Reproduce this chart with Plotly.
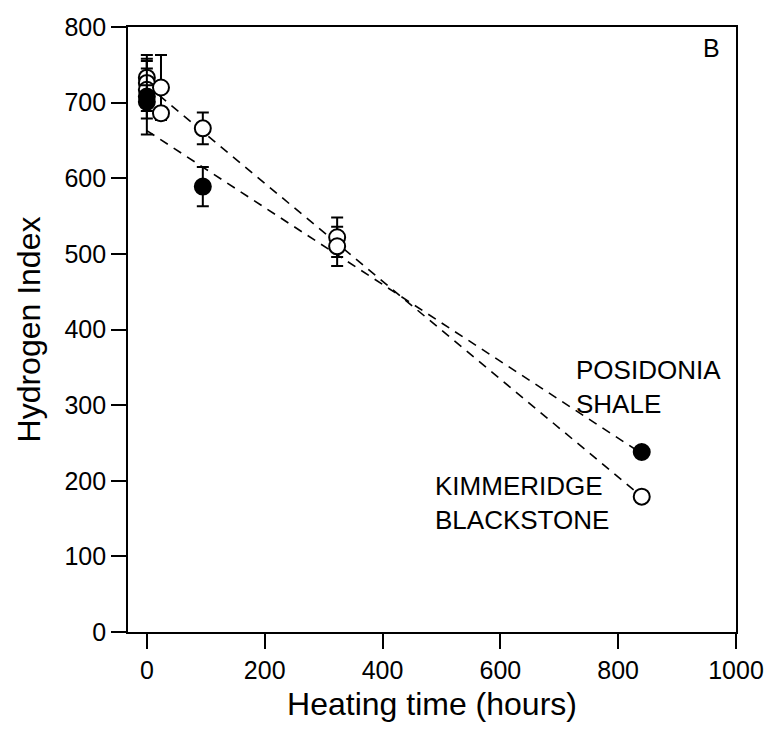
import plotly.graph_objects as go

# Kimmeridge Blackstone (open circles)
kim_x = [0, 0, 0, 24, 24, 95, 323, 323, 840]
kim_y = [733, 726, 717, 720, 686, 666, 522, 510, 179]
kim_err = [30, 29, 28, 43, 0, 21, 26, 26, 0]

# Posidonia Shale (filled circles)
pos_x = [0, 0, 95, 840]
pos_y = [708, 701, 589, 238]
pos_err = [50, 22, 26, 0]

# Fitted trend lines
kim_fit_x = [0, 840]
kim_fit_y = [723, 179]
pos_fit_x = [0, 840]
pos_fit_y = [663, 236]

x_ticks = [0, 200, 400, 600, 800, 1000]
y_ticks = [0, 100, 200, 300, 400, 500, 600, 700, 800]

FONT = "Liberation Sans, Arial, sans-serif"

fig = go.Figure()

fig.add_trace(go.Scatter(x=kim_fit_x, y=kim_fit_y, mode="lines",
                         line=dict(color="black", width=1.6, dash="9px,7px"),
                         showlegend=False, hoverinfo="skip"))
fig.add_trace(go.Scatter(x=pos_fit_x, y=pos_fit_y, mode="lines",
                         line=dict(color="black", width=1.6, dash="9px,7px"),
                         showlegend=False, hoverinfo="skip"))

fig.add_trace(go.Scatter(x=kim_x, y=kim_y, mode="markers",
                         marker=dict(symbol="circle", size=16, color="white",
                                     line=dict(color="black", width=2)),
                         error_y=dict(type="data", array=kim_err, visible=True,
                                      color="black", thickness=2, width=6),
                         showlegend=False))
fig.add_trace(go.Scatter(x=pos_x, y=pos_y, mode="markers",
                         marker=dict(symbol="circle", size=16, color="black",
                                     line=dict(color="black", width=2)),
                         error_y=dict(type="data", array=pos_err, visible=True,
                                      color="black", thickness=2, width=6),
                         showlegend=False))

fig.add_annotation(x=725, y=324, text="POSIDONIA<br>SHALE", showarrow=False,
                   xanchor="left", yanchor="middle", align="left",
                   font=dict(family=FONT, size=26, color="black"))
fig.add_annotation(x=485, y=171, text="KIMMERIDGE<br>BLACKSTONE", showarrow=False,
                   xanchor="left", yanchor="middle", align="left",
                   font=dict(family=FONT, size=26, color="black"))
fig.add_annotation(x=959, y=772, text="B", showarrow=False,
                   xanchor="center", yanchor="middle",
                   font=dict(family=FONT, size=25, color="black"))

fig.update_layout(
    width=776, height=741,
    margin=dict(l=128, r=40, t=27, b=109),
    plot_bgcolor="white", paper_bgcolor="white",
    font=dict(family=FONT, color="black"),
    xaxis=dict(range=[-32, 1000], tickvals=x_ticks, ticks="outside", ticklen=15,
               tickwidth=1.5, tickcolor="black", showline=True, linecolor="black",
               linewidth=1.6, mirror=True, showgrid=False, zeroline=False,
               tickfont=dict(size=25),
               title=dict(text="Heating time (hours)", font=dict(size=32), standoff=10)),
    yaxis=dict(range=[0, 800], tickvals=y_ticks, ticks="outside", ticklen=15,
               tickwidth=1.5, tickcolor="black", showline=True, linecolor="black",
               linewidth=1.6, mirror=True, showgrid=False, zeroline=False,
               tickfont=dict(size=25),
               title=dict(text="Hydrogen Index", font=dict(size=32), standoff=14)),
)

fig.write_html("out.html", config={"displayModeBar": False},
               post_script="document.body.style.margin='0';document.body.style.overflow='hidden';")
